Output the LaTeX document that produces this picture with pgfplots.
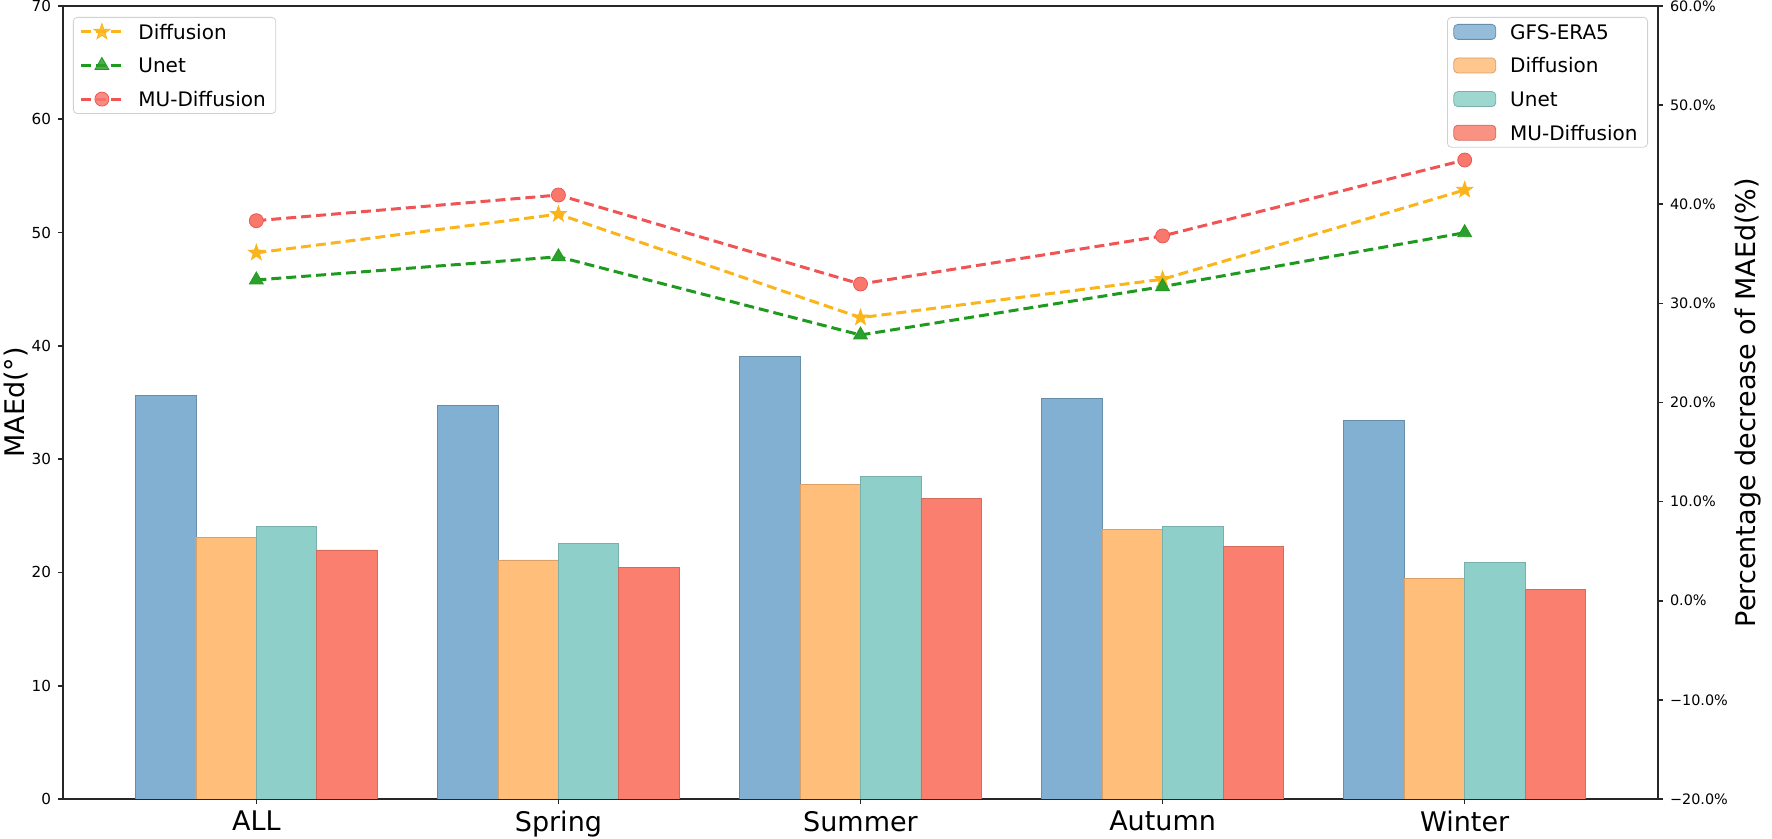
\documentclass[border=0pt]{standalone}
\usepackage{fontspec}
\setmainfont{DejaVu Sans}
\usepackage{pgfplots}
\pgfplotsset{compat=1.18}
\usetikzlibrary{plotmarks}

\definecolor{cgfs}{HTML}{82B0D2}
\definecolor{cdif}{HTML}{FFBE7A}
\definecolor{cunet}{HTML}{8ECFC9}
\definecolor{cmu}{HTML}{FA7F6F}
\definecolor{ldif}{HTML}{FBB41A}
\definecolor{lunet}{HTML}{1E9B1E}
\definecolor{munet}{HTML}{2CA02C}
\definecolor{lmu}{HTML}{F05454}
\definecolor{mmu}{HTML}{F8786C}

\pgfdeclareplotmark{fstar}{%
  \pgfpathmoveto{\pgfpointpolar{90}{\pgfplotmarksize}}%
  \pgfpathlineto{\pgfpointpolar{126}{0.4\pgfplotmarksize}}%
  \pgfpathlineto{\pgfpointpolar{162}{\pgfplotmarksize}}%
  \pgfpathlineto{\pgfpointpolar{198}{0.4\pgfplotmarksize}}%
  \pgfpathlineto{\pgfpointpolar{234}{\pgfplotmarksize}}%
  \pgfpathlineto{\pgfpointpolar{270}{0.4\pgfplotmarksize}}%
  \pgfpathlineto{\pgfpointpolar{306}{\pgfplotmarksize}}%
  \pgfpathlineto{\pgfpointpolar{342}{0.4\pgfplotmarksize}}%
  \pgfpathlineto{\pgfpointpolar{18}{\pgfplotmarksize}}%
  \pgfpathlineto{\pgfpointpolar{54}{0.4\pgfplotmarksize}}%
  \pgfpathclose
  \pgfusepathqfillstroke
}

\begin{document}
\begin{tikzpicture}
\pgfplotsset{
  common/.style={
    scale only axis, width=797.5pt, height=396.5pt,
    xmin=-0.64, xmax=4.64,
    axis line style={black!85, line width=1pt},
    tick style={black!85, line width=0.8pt},
    tick align=outside, major tick length=2.5pt,
    /pgf/number format/assume math mode=true,
    legend style={draw=black!18, rounded corners=2pt, fill=white, fill opacity=0.85, text opacity=1,
      font=\fontsize{10}{12}\selectfont, cells={anchor=west}, row sep=5.3pt,
      nodes={text height=7.5pt, text depth=0pt},
      inner ysep=1.5pt,
      /tikz/every odd column/.append style={column sep=5pt}},
  },
  barleg/.style={legend image code/.code={\draw[##1] (0pt,-3.75pt) rectangle (21pt,3.75pt);}},
  lineleg/.style={legend image code/.code={\draw[mark repeat=2,mark phase=2,##1] plot coordinates {(0pt,0pt) (10.5pt,0pt) (21pt,0pt)};}},
}
\begin{axis}[common,
  ymin=0, ymax=70, ytick={0,10,...,70},
  xtick={0,1,2,3,4}, xticklabels={ALL,Spring,Summer,Autumn,Winter},
  xtick pos=bottom, ytick pos=left,
  xticklabel style={font=\fontsize{13.5}{16}\selectfont},
  yticklabel style={font=\fontsize{7.6}{9}\selectfont},
  ylabel={MAEd(°)},
  every axis y label/.style={at={(axis description cs:-0.0295,0.5)}, rotate=90, anchor=center, font=\fontsize{13.5}{16}\selectfont},
  legend style={at={(axis description cs:1,1)}, anchor=north east, xshift=-5pt, yshift=-5.5pt},
]
\addplot[ybar, bar width=0.2, bar shift=-0.3, fill=cgfs, draw=cgfs!80!black, line width=0.4pt, barleg]
  coordinates {(0,35.66) (1,34.75) (2,39.04) (3,35.36) (4,33.39)};
\addlegendentry{GFS-ERA5}
\addplot[ybar, bar width=0.2, bar shift=-0.1, fill=cdif, draw=cdif!85!black, line width=0.4pt, barleg]
  coordinates {(0,23.12) (1,21.10) (2,27.80) (3,23.83) (4,19.50)};
\addlegendentry{Diffusion}
\addplot[ybar, bar width=0.2, bar shift=0.1, fill=cunet, draw=cunet!85!black, line width=0.4pt, barleg]
  coordinates {(0,24.04) (1,22.57) (2,28.45) (3,24.04) (4,20.90)};
\addlegendentry{Unet}
\addplot[ybar, bar width=0.2, bar shift=0.3, fill=cmu, draw=cmu!85!black, line width=0.4pt, barleg]
  coordinates {(0,21.98) (1,20.45) (2,26.54) (3,22.27) (4,18.50)};
\addlegendentry{MU-Diffusion}
\end{axis}

\begin{axis}[common,
  axis x line=none, axis y line*=right, ytick pos=right,
  ymin=-20, ymax=60, ytick={-20,-10,0,10,20,30,40,50,60},
  yticklabels={−20.0\%,−10.0\%,0.0\%,10.0\%,20.0\%,30.0\%,40.0\%,50.0\%,60.0\%},
  yticklabel style={font=\fontsize{7.2}{9}\selectfont},
  ylabel={Percentage decrease of MAEd(\%)},
  every axis y label/.style={at={(axis description cs:1.0564,0.5)}, rotate=90, anchor=center, font=\fontsize{13.5}{16}\selectfont},
  legend style={at={(axis description cs:0,1)}, anchor=north west, xshift=5pt, yshift=-5.5pt},
]
\addplot[ldif, line width=1.5pt, dash pattern=on 5pt off 2.5pt, mark=fstar, mark size=4.2pt,
  mark options={solid, fill=ldif, draw=ldif, line width=0.4pt}, lineleg]
  coordinates {(0,35.10) (1,39.00) (2,28.56) (3,32.43) (4,41.44)};
\addlegendentry{Diffusion}
\addplot[lunet, line width=1.5pt, dash pattern=on 5pt off 2.5pt, mark=triangle*, mark size=4pt,
  mark options={solid, fill=munet, draw=lunet, line width=0.4pt}, lineleg]
  coordinates {(0,32.36) (1,34.70) (2,26.81) (3,31.69) (4,37.13)};
\addlegendentry{Unet}
\addplot[lmu, line width=1.5pt, dash pattern=on 5pt off 2.5pt, mark=*, mark size=3.5pt,
  mark options={solid, fill=mmu, draw=lmu, line width=0.4pt}, lineleg]
  coordinates {(0,38.34) (1,40.93) (2,31.95) (3,36.80) (4,44.46)};
\addlegendentry{MU-Diffusion}
\end{axis}
\pgfresetboundingbox
\useasboundingbox (-31.5pt,-20pt) rectangle (854.5pt,399.5pt);
\end{tikzpicture}
\end{document}
